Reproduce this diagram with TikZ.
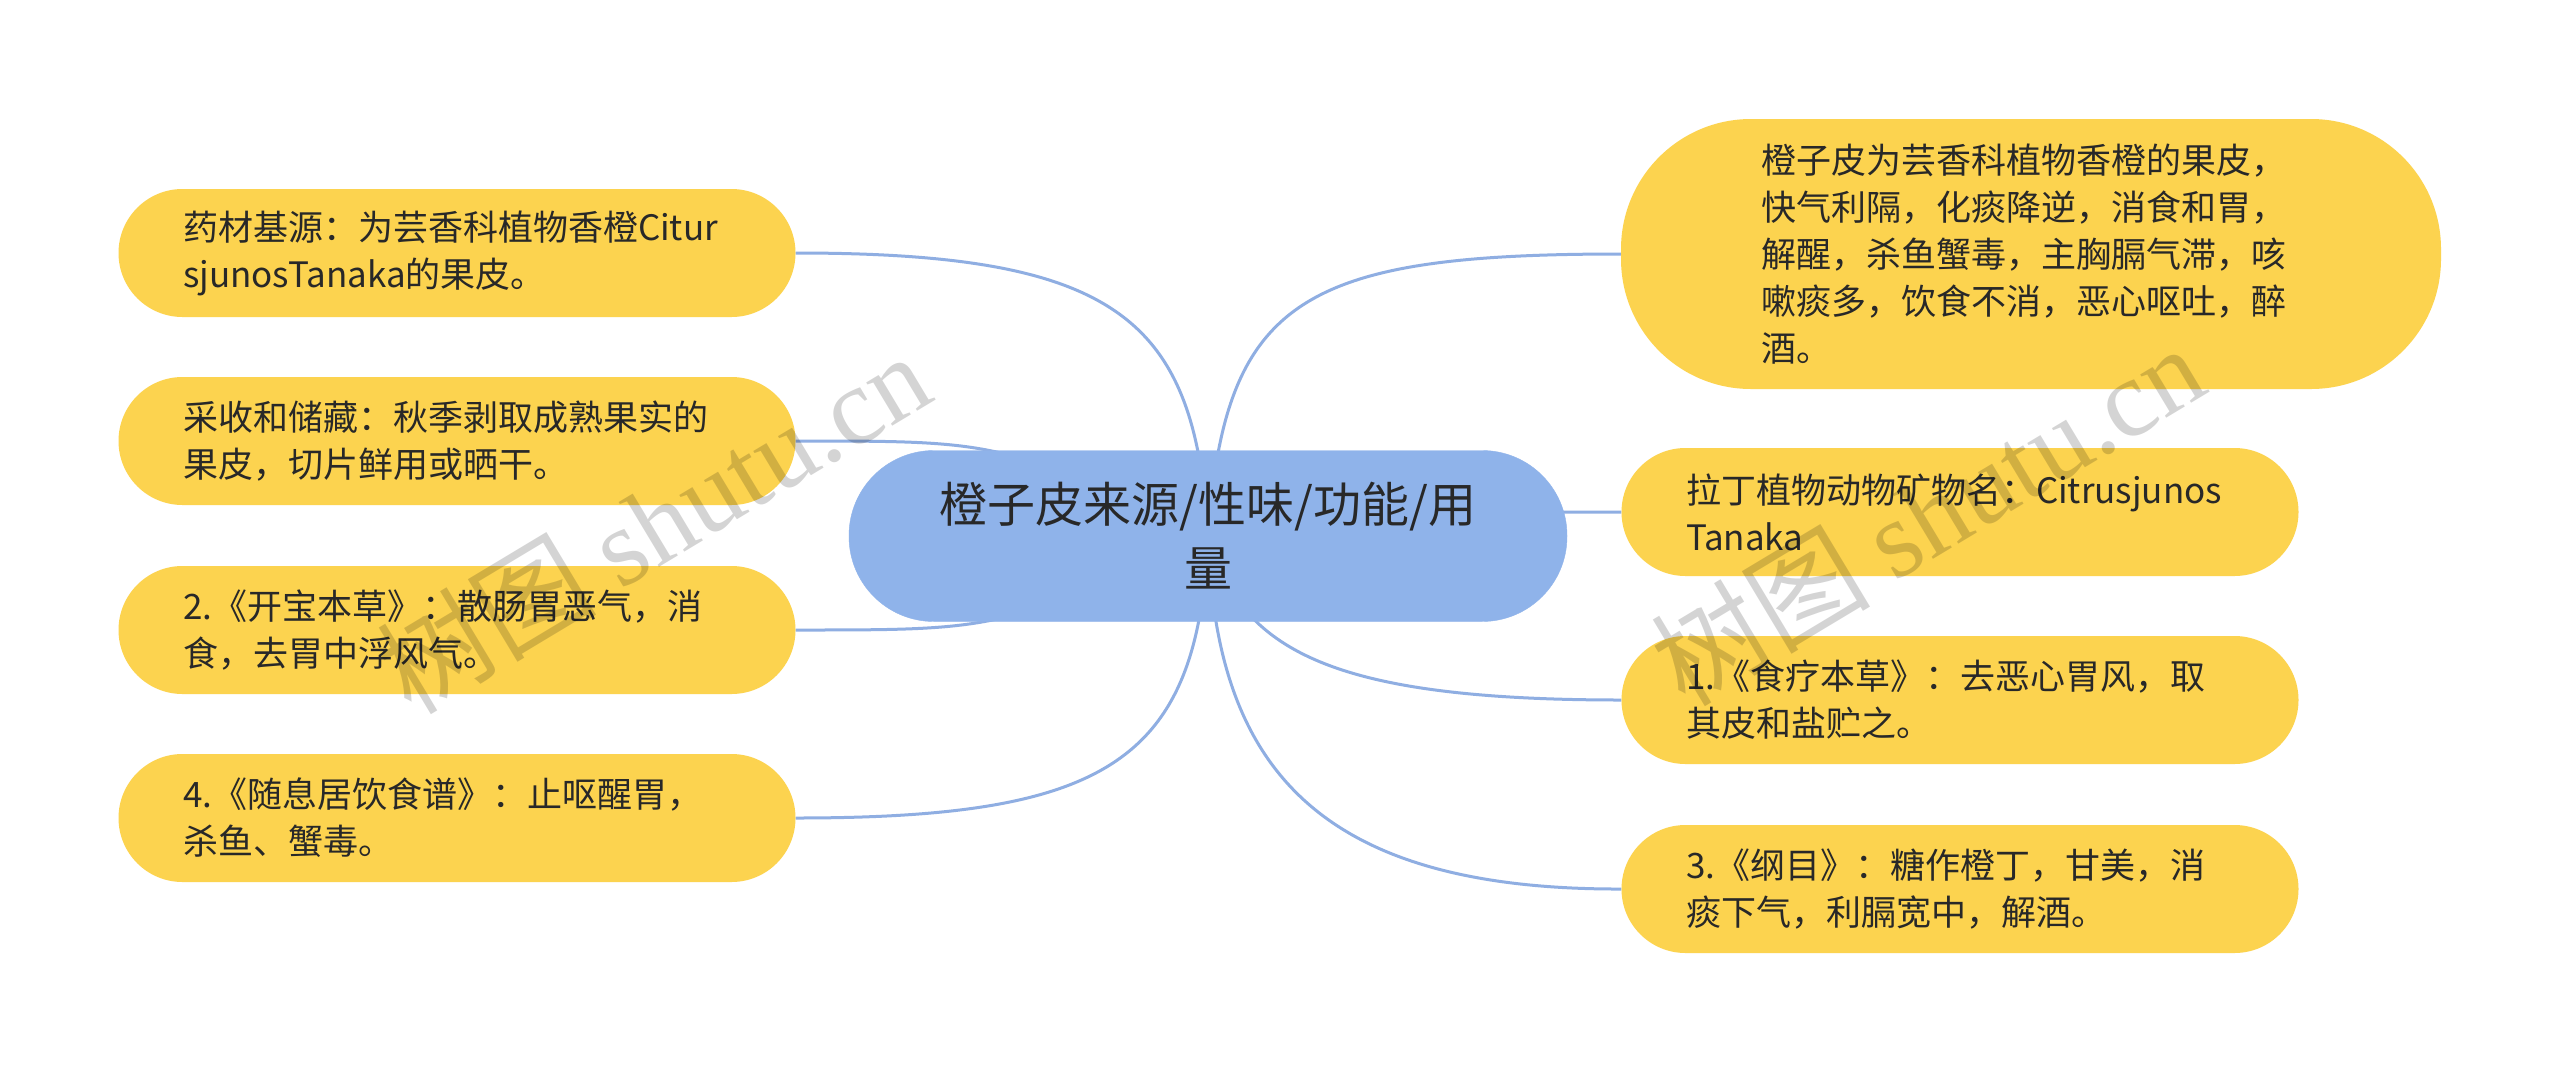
\documentclass[tikz,border=0pt]{standalone}
\usepackage{fontspec}
\setmainfont{Noto Sans CJK SC}
\newfontfamily\wmfont{Liberation Serif}
\usetikzlibrary{backgrounds}
\definecolor{leafyellow}{RGB}{252,211,79}
\definecolor{rootblue}{RGB}{143,179,234}
\definecolor{linkblue}{RGB}{143,174,226}
\definecolor{inkgray}{RGB}{40,40,40}
\begin{document}
\begin{tikzpicture}[x=1pt, y=-1pt,
    leaf/.style={rectangle, rounded corners=64pt, fill=leafyellow, text=inkgray,
      minimum width=677pt, minimum height=128pt, text width=548pt, align=left,
      inner sep=0pt, font=\fontsize{35}{47}\selectfont},
    bigleaf/.style={leaf, minimum width=820pt, minimum height=270pt,
      rounded corners=130pt, text width=540pt},
    topic/.style={rectangle, rounded corners=85pt, fill=rootblue, draw=rootblue,
      text=inkgray, minimum width=718pt, minimum height=171pt, align=center,
      inner sep=0pt, font=\fontsize{48}{64}\selectfont},
    link/.style={draw=linkblue, line width=3pt},
    wm/.style={rotate=31, text=black, text opacity=0.17,
      font=\fontsize{110}{110}\selectfont}]
    \useasboundingbox (0,0) rectangle (2560,1072);
    % Central topic
    \node[topic] (root) at (1208,536) {橙子皮来源/性味/功能/用\\量};
    % Left branches
    \node[leaf] (yaocai) at (457,253) {药材基源：为芸香科植物香橙Citur\\sjunosTanaka的果皮。};
    \node[leaf] (caishou) at (457,441) {采收和储藏：秋季剥取成熟果实的\\果皮，切片鲜用或晒干。};
    \node[leaf] (kaibao) at (457,630) {2.《开宝本草》：散肠胃恶气，消\\食，去胃中浮风气。};
    \node[leaf] (suixi) at (457,818) {4.《随息居饮食谱》：止呕醒胃，\\杀鱼、蟹毒。};
    % Right branches
    \node[bigleaf] (intro) at (2031,254) {橙子皮为芸香科植物香橙的果皮，\\快气利隔，化痰降逆，消食和胃，\\解醒，杀鱼蟹毒，主胸膈气滞，咳\\嗽痰多，饮食不消，恶心呕吐，醉\\酒。};
    \node[leaf] (latin) at (1960,512) {拉丁植物动物矿物名：Citrusjunos\\Tanaka};
    \node[leaf] (shiliao) at (1960,700) {1.《食疗本草》：去恶心胃风，取\\其皮和盐贮之。};
    \node[leaf] (gangmu) at (1960,889) {3.《纲目》：糖作橙丁，甘美，消\\痰下气，利膈宽中，解酒。};
    % Curved links, behind the nodes
    \begin{scope}[on background layer]
        \fill[white] (0,0) rectangle (2560,1072);
        \draw[link] (root.center) .. controls (1195,320) and (1120,253) .. (yaocai.east);
        \draw[link] (root.center) .. controls (1000,441) .. (caishou.east);
        \draw[link] (root.center) .. controls (1000,630) .. (kaibao.east);
        \draw[link] (root.center) .. controls (1198,760) and (1110,818) .. (suixi.east);
        \draw[link] (root.center) .. controls (1225,300) and (1300,254) .. (intro.west);
        \draw[link] (root.center) .. controls (1420,512) .. (latin.west);
        \draw[link] (root.center) .. controls (1240,650) and (1330,700) .. (shiliao.west);
        \draw[link] (root.center) .. controls (1215,760) and (1310,890) .. (gangmu.west);
    \end{scope}
    % Watermarks
    \node[wm] (wmleft) at (653,522) {树图 {\wmfont shutu.cn}};
    \node[wm] (wmright) at (1927,514) {树图 {\wmfont shutu.cn}};
\end{tikzpicture}
\end{document}
